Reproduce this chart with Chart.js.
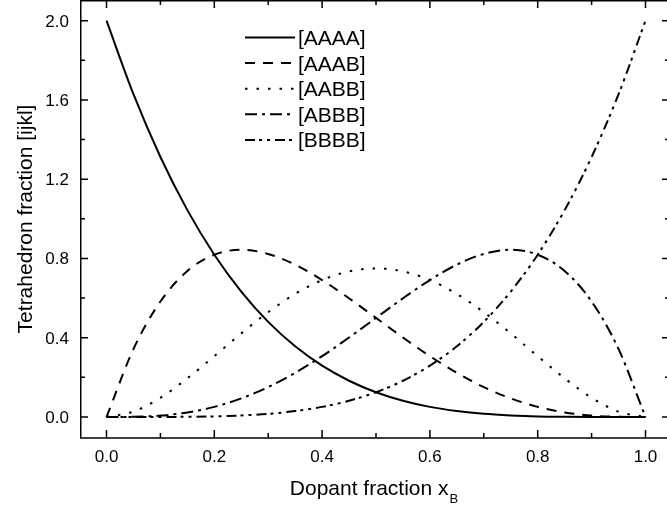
<!DOCTYPE html>
<html>
<head>
<meta charset="utf-8">
<style>
  html, body { margin: 0; padding: 0; background: #fff; }
  canvas { display: block; }
</style>
<script src="https://cdn.jsdelivr.net/npm/chart.js@4.4.1/dist/chart.umd.min.js"></script>
</head>
<body>
<canvas id="chart" width="667" height="510"></canvas>
<script>
// dopant fraction x_B
const xValues = [0, 0.05, 0.1, 0.15, 0.2, 0.25, 0.3, 0.35, 0.4, 0.45, 0.5, 0.55, 0.6, 0.65, 0.7, 0.75, 0.8, 0.85, 0.9, 0.95, 1.0];

// tetrahedron fractions
const aaaa = [2, 1.629, 1.312, 1.044, 0.819, 0.633, 0.480, 0.357, 0.259, 0.183, 0.125, 0.082, 0.051, 0.030, 0.016, 0.008, 0.003, 0.001, 0.0002, 0, 0];
const aaab = [0, 0.343, 0.583, 0.737, 0.819, 0.844, 0.823, 0.769, 0.691, 0.599, 0.5, 0.401, 0.307, 0.223, 0.151, 0.094, 0.051, 0.023, 0.007, 0.001, 0];
const aabb = [0, 0.027, 0.097, 0.195, 0.307, 0.422, 0.529, 0.621, 0.691, 0.735, 0.75, 0.735, 0.691, 0.621, 0.529, 0.422, 0.307, 0.195, 0.097, 0.027, 0];
const abbb = [0, 0.001, 0.007, 0.023, 0.051, 0.094, 0.151, 0.223, 0.307, 0.401, 0.5, 0.599, 0.691, 0.769, 0.823, 0.844, 0.819, 0.737, 0.583, 0.343, 0];
const bbbb = [0, 0, 0.0002, 0.001, 0.003, 0.008, 0.016, 0.030, 0.051, 0.082, 0.125, 0.183, 0.259, 0.357, 0.480, 0.633, 0.819, 1.044, 1.312, 1.629, 2];

const seriesLabels = ["[AAAA]", "[AAAB]", "[AABB]", "[ABBB]", "[BBBB]"];

const xTicks = [0, 0.2, 0.4, 0.6, 0.8, 1.0];
const xMinorTicks = [0.1, 0.3, 0.5, 0.7, 0.9];
const yTicks = [0, 0.4, 0.8, 1.2, 1.6, 2.0];
const yMinorTicks = [0.2, 0.6, 1.0, 1.4, 1.8];

const dashes = [[], [10, 8], [2.5, 9], [12, 5, 3, 5], [10, 4, 3, 5, 3, 5]];

function points(values) {
  return xValues.map((x, i) => ({ x: x, y: values[i] }));
}

const datasets = [aaaa, aaab, aabb, abbb, bbbb].map((values, i) => ({
  label: seriesLabels[i],
  data: points(values),
  borderColor: "#000",
  borderWidth: 2,
  borderDash: dashes[i],
  borderCapStyle: "butt",
  pointRadius: 0,
  fill: false,
  cubicInterpolationMode: "monotone",
}));

// box, inward ticks, labels and titles
const frame = {
  id: "frame",
  afterDatasetsDraw(chart) {
    const { ctx, chartArea: a } = chart;
    const x = chart.scales.x;
    const y = chart.scales.y;
    const right = a.right + 3;
    ctx.save();
    ctx.strokeStyle = "#000";
    ctx.lineWidth = 1.5;
    ctx.beginPath();
    ctx.moveTo(right, a.top + 0.75);
    ctx.lineTo(a.left + 0.75, a.top + 0.75);
    ctx.lineTo(a.left + 0.75, a.bottom);
    ctx.lineTo(right, a.bottom);
    ctx.stroke();

    const tick = (px, len, vertical) => {
      if (vertical) {
        ctx.moveTo(px, a.bottom);
        ctx.lineTo(px, a.bottom - len);
        ctx.moveTo(px, a.top);
        ctx.lineTo(px, a.top + len);
      } else {
        ctx.moveTo(a.left, px);
        ctx.lineTo(a.left + len, px);
        ctx.moveTo(right, px);
        ctx.lineTo(right - len, px);
      }
    };
    ctx.beginPath();
    xTicks.forEach((v) => tick(x.getPixelForValue(v), 8, true));
    xMinorTicks.forEach((v) => tick(x.getPixelForValue(v), 5, true));
    yTicks.forEach((v) => tick(y.getPixelForValue(v), 8, false));
    yMinorTicks.forEach((v) => tick(y.getPixelForValue(v), 5, false));
    ctx.stroke();

    ctx.fillStyle = "#000";
    ctx.font = "17px 'Liberation Sans', Arial, sans-serif";
    ctx.textAlign = "center";
    ctx.textBaseline = "alphabetic";
    xTicks.forEach((v) => ctx.fillText(v.toFixed(1), x.getPixelForValue(v), 462));
    ctx.textAlign = "right";
    yTicks.forEach((v) => ctx.fillText(v.toFixed(1), 69, y.getPixelForValue(v) + 6));

    // x title with subscript
    ctx.font = "21px 'Liberation Sans', Arial, sans-serif";
    const main = "Dopant fraction x";
    const mw = ctx.measureText(main).width;
    ctx.font = "13px 'Liberation Sans', Arial, sans-serif";
    const sw = ctx.measureText("B").width;
    const cx = (a.left + a.right) / 2;
    const startX = cx - (mw + sw) / 2;
    ctx.textAlign = "left";
    ctx.font = "21px 'Liberation Sans', Arial, sans-serif";
    ctx.fillText(main, startX, 495);
    ctx.font = "13px 'Liberation Sans', Arial, sans-serif";
    ctx.fillText("B", startX + mw + 1, 503);

    // y title
    ctx.save();
    ctx.translate(31.5, (a.top + a.bottom) / 2);
    ctx.rotate(-Math.PI / 2);
    ctx.textAlign = "center";
    ctx.font = "21px 'Liberation Sans', Arial, sans-serif";
    ctx.fillText("Tetrahedron fraction [ijkl]", 0, 0);
    ctx.restore();

    // legend
    ctx.lineWidth = 2;
    ctx.lineCap = "butt";
    ctx.textAlign = "left";
    ctx.font = "21px 'Liberation Sans', Arial, sans-serif";
    chart.data.datasets.forEach((ds, i) => {
      const ly = 37.5 + i * 25.6;
      ctx.setLineDash(ds.borderDash);
      ctx.beginPath();
      ctx.moveTo(245, ly);
      ctx.lineTo(295, ly);
      ctx.stroke();
      ctx.setLineDash([]);
      ctx.fillText(ds.label, 298, ly + 7.5);
    });
    ctx.restore();
  },
};

new Chart(document.getElementById("chart"), {
  type: "line",
  data: { datasets: datasets },
  options: {
    responsive: false,
    devicePixelRatio: 1,
    animation: false,
    layout: { padding: { left: 80, right: 0, top: 0, bottom: 72 } },
    plugins: {
      legend: { display: false },
      tooltip: { enabled: false },
    },
    scales: {
      x: { type: "linear", min: -0.0492, max: 1.0399, display: false },
      y: { type: "linear", min: -0.106, max: 2.1045, display: false },
    },
  },
  plugins: [frame],
});
</script>
</body>
</html>
